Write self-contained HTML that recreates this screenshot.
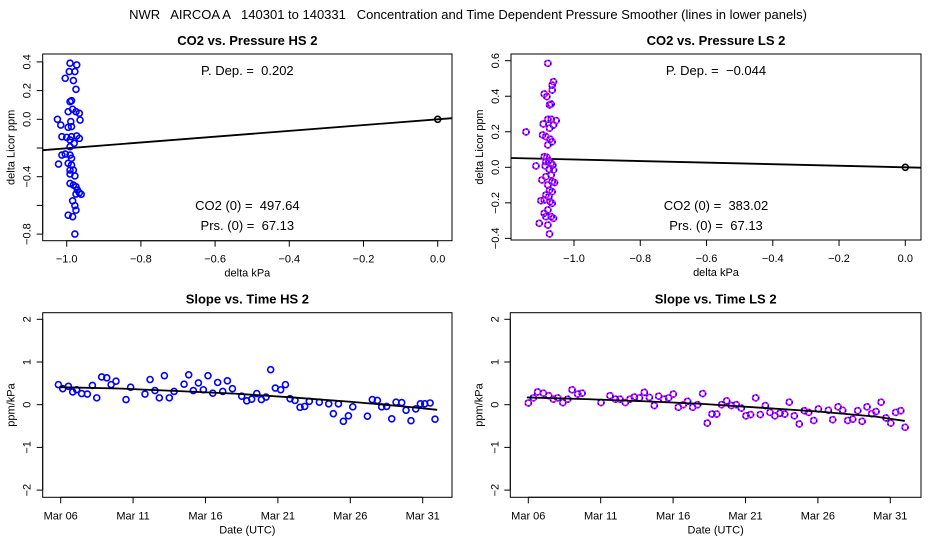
<!DOCTYPE html>
<html><head><meta charset="utf-8"><style>
body{margin:0;background:#fff}
svg{display:block;font-family:"Liberation Sans",sans-serif}
svg text{white-space:pre}
</style></head><body>
<svg id="chart" width="936" height="540" viewBox="0 0 936 540" xmlns="http://www.w3.org/2000/svg" xml:space="preserve">
<text x="468" y="19" font-size="13" text-anchor="middle">NWR   AIRCOA A   140301 to 140331   Concentration and Time Dependent Pressure Smoother (lines in lower panels)</text>
</svg>
<script>
const hsPX=[-0.991,-0.973,-0.993,-0.978,-1.004,-0.982,-0.975,-0.991,-0.987,-0.996,-0.984,-0.975,-0.966,-1.025,-0.964,-0.989,-1.016,-0.996,-0.987,-1.013,-1.0,-0.987,-0.973,-0.966,-0.991,-0.980,-0.991,-1.013,-1.004,-0.991,-0.987,-1.022,-0.996,-0.987,-0.991,-0.982,-0.991,-0.978,-0.991,-0.982,-0.975,-0.971,-0.966,-0.961,-0.975,-0.984,-0.978,-0.975,-0.996,-0.984,-0.978];
const hsPY=[0.391,0.379,0.333,0.333,0.286,0.270,0.209,0.123,0.130,0.053,0.070,0.053,0.042,0.0,-0.005,-0.016,-0.040,-0.056,-0.051,-0.121,-0.126,-0.121,-0.116,-0.133,-0.144,-0.167,-0.191,-0.249,-0.242,-0.249,-0.272,-0.312,-0.307,-0.319,-0.354,-0.354,-0.381,-0.395,-0.447,-0.458,-0.470,-0.493,-0.512,-0.523,-0.521,-0.568,-0.602,-0.633,-0.668,-0.679,-0.800];
const lsPX=[-1.079,-1.062,-1.066,-1.066,-1.090,-1.082,-1.069,-1.074,-1.145,-1.093,-1.079,-1.069,-1.054,-1.062,-1.074,-1.095,-1.085,-1.072,-1.066,-1.079,-1.090,-1.082,-1.076,-1.069,-1.064,-1.087,-1.075,-1.062,-1.115,-1.097,-1.085,-1.079,-1.066,-1.059,-1.074,-1.066,-1.085,-1.076,-1.090,-1.100,-1.072,-1.066,-1.079,-1.090,-1.085,-1.069,-1.062,-1.105,-1.079,-1.074,-1.085,-1.069];
const lsPY=[0.585,0.482,0.463,0.435,0.413,0.398,0.356,0.351,0.199,0.244,0.270,0.270,0.263,0.238,0.220,0.182,0.173,0.158,0.144,0.126,0.060,0.056,0.038,0.023,0.013,0.008,-0.011,-0.015,0.008,-0.071,-0.053,-0.099,-0.081,-0.086,-0.128,-0.137,-0.156,-0.165,-0.184,-0.188,-0.193,-0.203,-0.240,-0.259,-0.278,-0.278,-0.287,-0.315,-0.325,-0.375,0.032,-0.043];
const pDep=[0.202,-0.044];
const annotP=["P. Dep. =  0.202","P. Dep. =  \u22120.044"];
const annotC=["CO2 (0) =  497.64","CO2 (0) =  383.02"];
const annotR=["Prs. (0) =  67.13","Prs. (0) =  67.13"];
const hsDay=[5.84,6.14,6.53,6.83,7.10,7.45,7.84,8.19,8.49,8.83,9.18,9.48,9.82,10.51,10.83,11.82,12.17,12.51,12.81,13.16,13.50,13.83,14.52,14.84,15.16,15.51,15.85,16.17,16.50,16.84,17.19,17.51,17.86,18.50,18.85,19.19,19.54,19.86,20.18,20.50,20.82,21.19,21.52,21.84,22.18,22.53,22.85,23.17,23.86,24.51,24.83,25.18,25.52,25.87,26.17,27.18,27.52,27.87,28.17,28.51,28.86,29.16,29.55,29.85,30.19,30.52,30.84,31.14,31.51,31.85];
const hsSlope=[0.47,0.375,0.43,0.30,0.35,0.26,0.25,0.45,0.16,0.65,0.63,0.47,0.55,0.12,0.41,0.25,0.59,0.33,0.16,0.68,0.16,0.31,0.48,0.70,0.33,0.51,0.35,0.68,0.27,0.52,0.31,0.56,0.375,0.20,0.09,0.13,0.26,0.12,0.18,0.82,0.39,0.35,0.47,0.14,0.10,-0.06,-0.04,0.08,0.06,0.02,-0.21,0.02,-0.39,-0.26,-0.05,-0.27,0.12,0.10,-0.05,-0.04,-0.33,0.06,0.05,-0.13,-0.375,-0.10,0.02,0.02,0.04,-0.34];
const lsDay=[6.0,6.35,6.64,7.04,7.41,7.73,8.03,8.38,8.72,9.02,9.41,9.71,11.02,11.64,12.01,12.33,12.70,13.02,13.32,13.67,14.01,14.36,14.70,15.00,15.35,15.69,16.01,16.36,16.70,17.00,17.35,17.69,18.04,18.36,18.68,19.01,19.35,19.70,20.02,20.36,20.71,21.03,21.35,21.70,22.02,22.37,22.69,23.03,23.38,23.71,24.02,24.37,24.71,25.06,25.36,25.71,26.03,26.72,27.02,27.39,27.71,28.06,28.40,28.75,29.05,29.39,29.71,30.01,30.36,30.70,31.03,31.37,31.72,32.02];
const lsSlope=[0.04,0.16,0.30,0.27,0.21,0.13,0.16,0.05,0.13,0.35,0.25,0.27,0.05,0.21,0.13,0.13,0.05,0.13,0.18,0.16,0.29,0.17,-0.02,0.20,0.13,0.16,0.25,-0.06,0.0,0.08,-0.06,0.0,0.26,-0.43,-0.22,-0.22,0.0,0.09,-0.02,0.0,-0.08,-0.26,-0.23,0.16,-0.23,-0.02,-0.18,-0.26,-0.20,-0.22,0.06,-0.26,-0.45,-0.14,-0.18,-0.37,-0.10,-0.13,-0.35,-0.05,-0.13,-0.37,-0.34,-0.14,-0.39,-0.05,-0.21,-0.16,0.06,-0.31,-0.43,-0.18,-0.14,-0.53];
const smDay=[5.9,10,14,18,22,26,30,32];
const hsSmooth=[0.41,0.38,0.32,0.26,0.17,0.07,-0.05,-0.12];
const lsSmooth=[0.17,0.13,0.08,0.02,-0.07,-0.16,-0.28,-0.38];
const xTicksTop=[-1.0,-0.8,-0.6,-0.4,-0.2,0.0];
const xTickLabelsTop=["\u22121.0","\u22120.8","\u22120.6","\u22120.4","\u22120.2","0.0"];
const yTicksHS=[0.4,0.2,0.0,-0.2,-0.4,-0.6,-0.8];
const yTickLabelsHS=["0.4","0.2","0.0","","\u22120.4","","\u22120.8"];
const yTicksLS=[0.6,0.4,0.2,0.0,-0.2,-0.4];
const yTickLabelsLS=["0.6","0.4","0.2","0.0","\u22120.2","\u22120.4"];
const dateTicks=[6,11,16,21,26,31];
const dateTickLabels=["Mar 06","Mar 11","Mar 16","Mar 21","Mar 26","Mar 31"];
const slopeTicks=[2,1,0,-1,-2];
const slopeTickLabels=["2","1","0","\u22121","\u22122"];

const svg=document.getElementById('chart');
const NS='http://www.w3.org/2000/svg';
function mk(tag,attrs,parent){const e=document.createElementNS(NS,tag);for(const k in attrs)e.setAttribute(k,attrs[k]);(parent||svg).appendChild(e);return e;}
function lin(d0,d1,r0,r1){return v=>r0+(v-d0)*(r1-r0)/(d1-d0);}

function panel(cfg){
  const g=mk('g',{});
  
  
  const X=cfg.X,Y=cfg.Y,b=cfg.box;
  const box=mk('rect',{x:b[0],y:b[1],width:b[2]-b[0],height:b[3]-b[1],fill:'none',stroke:'#000','stroke-width':1},g);
  
  
  const t=mk('text',{x:(b[0]+b[2])/2,y:b[1]-9,'font-size':13,'font-weight':'bold','text-anchor':'middle'},g);
  t.textContent=cfg.title;
  
  
  const xa=mk('g',{},g);
  
  
  mk('line',{x1:X(cfg.xt[0]),x2:X(cfg.xt[cfg.xt.length-1]),y1:b[3],y2:b[3],stroke:'#000'},xa);
  cfg.xt.forEach((v,i)=>{
    mk('line',{x1:X(v),x2:X(v),y1:b[3],y2:b[3]+6,stroke:'#000'},xa);
    const l=mk('text',{x:X(v),y:b[3]+22,'font-size':11,'text-anchor':'middle'},xa);
    l.textContent=cfg.xl[i];
    
    
  });
  const xt=mk('text',{x:(b[0]+b[2])/2,y:b[3]+36,'font-size':11,'text-anchor':'middle'},g);
  xt.textContent=cfg.xtitle;
  
  
  const ya=mk('g',{},g);
  
  
  mk('line',{x1:b[0],x2:b[0],y1:Y(cfg.yt[0]),y2:Y(cfg.yt[cfg.yt.length-1]),stroke:'#000'},ya);
  cfg.yt.forEach((v,i)=>{
    mk('line',{x1:b[0]-6,x2:b[0],y1:Y(v),y2:Y(v),stroke:'#000'},ya);
    const yy=Y(v),xx=b[0]-12;
    const l=mk('text',{x:xx,y:yy,'font-size':11,'text-anchor':'middle',transform:`rotate(-90 ${xx} ${yy})`},ya);
    l.textContent=cfg.yl[i];
    
    
  });
  const yx=b[0]-28,yy=(b[1]+b[3])/2;
  const ytl=mk('text',{x:yx,y:yy,'font-size':11,'text-anchor':'middle',transform:`rotate(-90 ${yx} ${yy})`},g);
  ytl.textContent=cfg.ytitle;
  
  
  return g;
}
function points(g,X,Y,xs,ys,ls){
  const pg=mk('g',{},g);
  
  
  xs.forEach((v,i)=>{
    const c=mk('circle',{cx:X(v),cy:Y(ys[i]),r:3,fill:'none',stroke:ls?'#ff00ff':'#0000ff','stroke-width':1.6},pg);
    
    
    if(ls){const d=mk('circle',{cx:X(v),cy:Y(ys[i]),r:3,fill:'none',stroke:'#0000ff','stroke-width':1.6,'stroke-dasharray':'1.5 2'},pg);
      
      }
  });
}
function annot(g,cx,y,txt,name){const e=mk('text',{x:cx,y:y,'font-size':13,'text-anchor':'middle'},g);e.textContent=txt;}

{const box=[42.7,54,452,240.7];const X=lin(-1,0,66.7,437.7),Y=lin(0,0.4,119.3,61.9);
 const g=panel({name:'panel-co2-pressure-hs',box,X,Y,title:'CO2 vs. Pressure HS 2',xt:xTicksTop,xl:xTickLabelsTop,yt:yTicksHS,yl:yTickLabelsHS,xtitle:'delta kPa',ytitle:'delta Licor ppm'});
 const x0=-1.065,x1=0.0385;
 const ln=mk('line',{x1:X(x0),y1:Y(pDep[0]*x0),x2:X(x1),y2:Y(pDep[0]*x1),stroke:'#000','stroke-width':1.8},g);
 
 points(g,X,Y,hsPX,hsPY,false);
 const z=mk('circle',{cx:X(0),cy:Y(0),r:3,fill:'none',stroke:'#000','stroke-width':1.6},g);
 
 const cx=(box[0]+box[2])/2;
 annot(g,cx,75,annotP[0],'p-dep-label');annot(g,cx,210,annotC[0],'co2-zero-label');annot(g,cx,230,annotR[0],'prs-zero-label');}
{const box=[511,54,921,240];const X=lin(-1,0,574,905.3),Y=lin(0,0.6,167.3,60.7);
 const g=panel({name:'panel-co2-pressure-ls',box,X,Y,title:'CO2 vs. Pressure LS 2',xt:xTicksTop,xl:xTickLabelsTop,yt:yTicksLS,yl:yTickLabelsLS,xtitle:'delta kPa',ytitle:'delta Licor ppm'});
 const x0=-1.19,x1=0.047;
 const ln=mk('line',{x1:X(x0),y1:Y(pDep[1]*x0),x2:X(x1),y2:Y(pDep[1]*x1),stroke:'#000','stroke-width':1.8},g);
 
 points(g,X,Y,lsPX,lsPY,true);
 const z=mk('circle',{cx:X(0),cy:Y(0),r:3,fill:'none',stroke:'#000','stroke-width':1.6},g);
 
 const cx=(box[0]+box[2])/2;
 annot(g,cx,75,annotP[1],'p-dep-label');annot(g,cx,210,annotC[1],'co2-zero-label');annot(g,cx,230,annotR[1],'prs-zero-label');}
function slopePanel(name,title,box,xa,days,vals,sm,ls){
  const X=lin(6,31,xa,xa+362),Y=lin(0,2,404.7,319.3);
  const g=panel({name,box,X,Y,title,xt:dateTicks,xl:dateTickLabels,yt:slopeTicks,yl:slopeTickLabels,xtitle:'Date (UTC)',ytitle:'ppm/kPa'});
  points(g,X,Y,days,vals,ls);
  const p=mk('polyline',{points:smDay.map((d,i)=>X(d)+','+Y(sm[i])).join(' '),fill:'none',stroke:'#000','stroke-width':1.8},g);
  
}
slopePanel('panel-slope-time-hs','Slope vs. Time HS 2',[42.7,312.7,452,497.3],60.7,hsDay,hsSlope,hsSmooth,false);
slopePanel('panel-slope-time-ls','Slope vs. Time LS 2',[510.3,312.7,921,497.3],528.3,lsDay,lsSlope,lsSmooth,true);
</script>
</body></html>
